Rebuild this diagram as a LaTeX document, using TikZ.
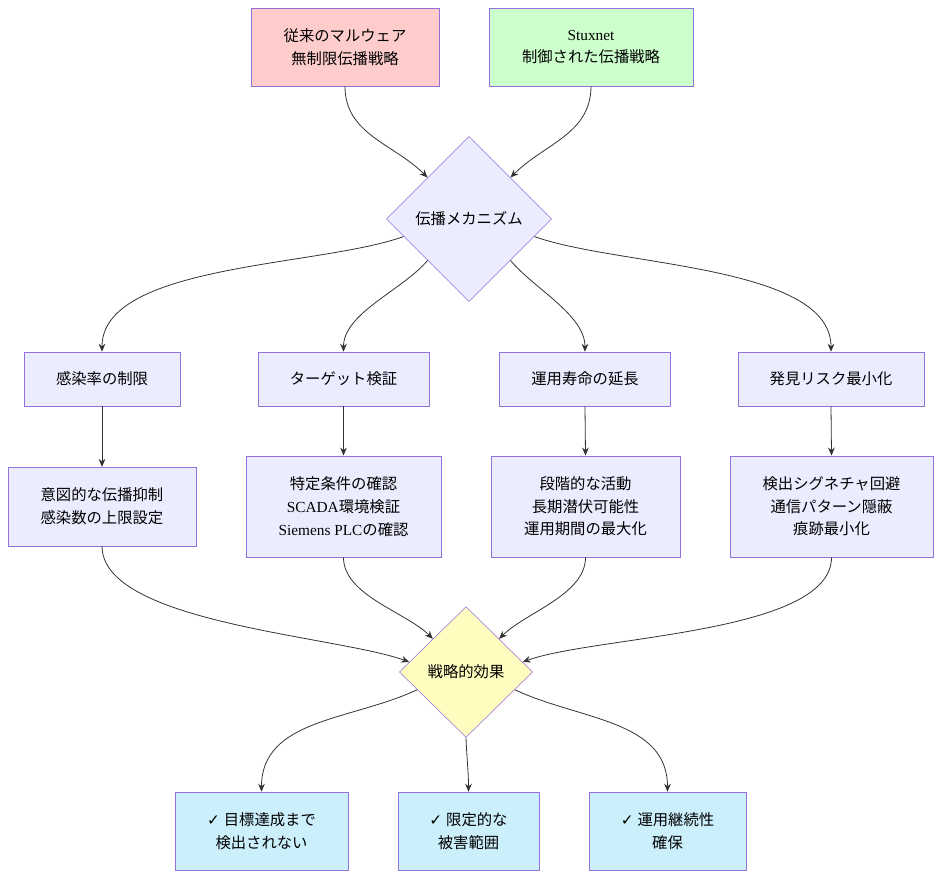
\documentclass[tikz,border=0pt]{standalone}
\usepackage{fontspec}
\setmainfont{Liberation Serif}
\newfontfamily\jp{Noto Sans CJK JP}
\newfontfamily\dv{DejaVu Sans}
\usetikzlibrary{shapes.geometric,arrows.meta}
\definecolor{bd}{HTML}{9370DB}
\definecolor{fl}{HTML}{ECECFF}
\tikzset{
 bx/.style={draw=bd,fill=fl,align=center,font=\fontsize{11.5}{17}\selectfont,inner sep=0pt},
 dm/.style={draw=bd,fill=fl,diamond,aspect=1,font=\fontsize{11.5}{17}\selectfont\jp,inner sep=0pt},
 ar/.style={draw=black!80,line width=0.6pt,-{Stealth[length=6pt,width=5pt]}}
}
\begin{document}
\begin{tikzpicture}[x=0.75pt,y=-0.75pt]
\useasboundingbox (0,0) rectangle (942,878);
\node[bx,fill=red!20,minimum width=141pt,minimum height=58.5pt] (a) at (345,47) {\jp 従来のマルウェア\\\jp 無制限伝播戦略};
\node[bx,fill=green!20,minimum width=153pt,minimum height=58.5pt] (b) at (591,47) {Stuxnet\\\jp 制御された伝播戦略};
\node[dm,minimum width=124pt,minimum height=124pt] (d1) at (469,219) {伝播メカニズム};
\node[bx,minimum width=117pt,minimum height=40.5pt] (r1) at (102,379) {\jp 感染率の制限};
\node[bx,minimum width=128pt,minimum height=40.5pt] (r2) at (343.5,379) {\jp ターゲット検証};
\node[bx,minimum width=128pt,minimum height=40.5pt] (r3) at (585,379) {\jp 運用寿命の延長};
\node[bx,minimum width=139.5pt,minimum height=40.5pt] (r4) at (831,379) {\jp 発見リスク最小化};
\node[bx,minimum width=141pt,minimum height=59pt] (s1) at (102,506.5) {\jp 意図的な伝播抑制\\\jp 感染数の上限設定};
\node[bx,minimum width=146pt,minimum height=76pt] (s2) at (343.5,506.5) {\jp 特定条件の確認\\SCADA{\jp 環境検証}\\Siemens PLC{\jp の確認}};
\node[bx,minimum width=141.5pt,minimum height=76pt] (s3) at (585.5,506.5) {\jp 段階的な活動\\\jp 長期潜伏可能性\\\jp 運用期間の最大化};
\node[bx,minimum width=152pt,minimum height=76pt] (s4) at (831.5,506.5) {\jp 検出シグネチャ回避\\\jp 通信パターン隠蔽\\\jp 痕跡最小化};
\node[dm,fill=yellow!25,minimum width=100pt,minimum height=98pt] (d2) at (466,672) {戦略的効果};
\node[bx,fill=cyan!20,minimum width=130pt,minimum height=58.5pt] (t1) at (261.5,831) {{\dv ✓} {\jp 目標達成まで}\\\jp 検出されない};
\node[bx,fill=cyan!20,minimum width=106pt,minimum height=58.5pt] (t2) at (468.5,831) {{\dv ✓} {\jp 限定的な}\\\jp 被害範囲};
\node[bx,fill=cyan!20,minimum width=118pt,minimum height=58.5pt] (t3) at (667.5,831) {{\dv ✓} {\jp 運用継続性}\\\jp 確保};
\draw[ar] (a.south) to[out=270,in=135] (d1.135);
\draw[ar] (b.south) to[out=270,in=45] (d1.45);
\draw[ar] (d1.195) to[out=200,in=90,looseness=0.7] (r1.north);
\draw[ar] (d1.225) to[out=230,in=90,looseness=0.8] (r2.north);
\draw[ar] (d1.-45) to[out=-50,in=90,looseness=0.8] (r3.north);
\draw[ar] (d1.-15) to[out=-20,in=90,looseness=0.7] (r4.north);
\foreach \i in {1,...,4} \draw[ar] (r\i.south) -- (s\i.north);
\draw[ar] (s1.south) to[out=270,in=160,looseness=0.6] (d2.170);
\draw[ar] (s2.south) to[out=270,in=135,looseness=0.8] (d2.135);
\draw[ar] (s3.south) to[out=270,in=45,looseness=0.8] (d2.45);
\draw[ar] (s4.south) to[out=270,in=20,looseness=0.6] (d2.10);
\draw[ar] (d2.200) to[out=205,in=90] (t1.north);
\draw[ar] (d2.south) to[out=-88,in=90] (t2.north);
\draw[ar] (d2.-20) to[out=-25,in=90] (t3.north);
\end{tikzpicture}
\end{document}
